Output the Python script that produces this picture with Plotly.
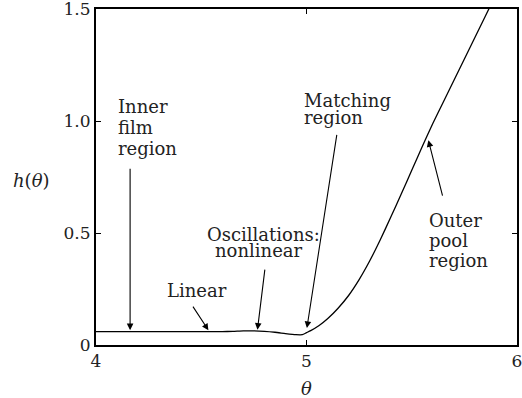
import plotly.graph_objects as go

# ---- data ----
theta = [4.0, 4.2, 4.4, 4.6, 4.65, 4.7, 4.75, 4.8, 4.85, 4.9, 4.95, 4.98, 5.0,
         5.02, 5.06, 5.1, 5.15, 5.2, 5.25, 5.3, 5.35, 5.4, 5.45, 5.5, 5.55,
         5.6, 5.65, 5.7, 5.75, 5.8, 5.85, 5.9]
h = [0.06, 0.06, 0.06, 0.06, 0.061, 0.063, 0.063, 0.061, 0.057, 0.051, 0.046,
     0.046, 0.055, 0.064, 0.087, 0.117, 0.164, 0.221, 0.292, 0.375, 0.469,
     0.570, 0.674, 0.780, 0.886, 0.989, 1.085, 1.181, 1.277, 1.373, 1.469,
     1.565]

x_tickvals = [4, 5, 6]
x_ticktext = ["4", "5", "6"]
y_tickvals = [0, 0.5, 1.0, 1.5]
y_ticktext = ["0", "0.5", "1.0", "1.5"]

# label lines: (text, theta, h, xanchor)
labels = [
    ("Inner", 4.10, 1.066, "left"),
    ("film", 4.10, 0.972, "left"),
    ("region", 4.10, 0.879, "left"),
    ("Linear", 4.333, 0.243, "left"),
    ("Oscillations:", 4.797, 0.495, "center"),
    ("nonlinear", 4.776, 0.421, "center"),
    ("Matching", 4.983, 1.093, "left"),
    ("region", 4.983, 1.017, "left"),
    ("Outer", 5.577, 0.558, "left"),
    ("pool", 5.577, 0.466, "left"),
    ("region", 5.577, 0.377, "left"),
]

# arrows: (tail theta, tail h, tip theta, tip h)
arrows = [
    (4.162, 0.794, 4.162, 0.066),
    (4.456, 0.178, 4.534, 0.066),
    (4.803, 0.343, 4.767, 0.068),
    (5.145, 0.945, 5.002, 0.076),
    (5.648, 0.660, 5.579, 0.914),
]

FONT = "DejaVu Serif"
FS = 18
TFS = 17
TXT = "#222"

fig = go.Figure()
fig.add_trace(go.Scatter(x=theta, y=h, mode="lines",
                         line=dict(color="black", width=1.3, shape="spline",
                                   smoothing=0.6),
                         hoverinfo="skip", showlegend=False))

ann = []
for t, x, y, xa in labels:
    ann.append(dict(x=x, y=y, xref="x", yref="y", text=t, showarrow=False,
                    xanchor=xa, yanchor="middle", borderpad=0,
                    font=dict(family=FONT, size=FS, color=TXT)))
for tx, ty, hx, hy in arrows:
    ann.append(dict(x=hx, y=hy, ax=tx, ay=ty, xref="x", yref="y",
                    axref="x", ayref="y", text="", showarrow=True,
                    arrowhead=2, arrowsize=1.2, arrowwidth=1.1,
                    arrowcolor="black", standoff=0, startstandoff=0))
ann.append(dict(x=-0.154, y=0.49, xref="paper", yref="paper",
                text="<i>h</i>(<i>θ</i>)", showarrow=False,
                xanchor="center", yanchor="middle",
                font=dict(family=FONT, size=FS, color=TXT)))
ann.append(dict(x=5.0, y=-0.128, xref="x", yref="paper",
                text="<i>θ</i>", showarrow=False,
                xanchor="center", yanchor="middle",
                font=dict(family=FONT, size=FS, color=TXT)))

fig.update_layout(
    width=522, height=398,
    margin=dict(l=96, r=5, t=9, b=53, autoexpand=False),
    paper_bgcolor="white", plot_bgcolor="white",
    font=dict(family=FONT, size=FS, color=TXT),
    annotations=ann,
    showlegend=False,
)
common = dict(ticks="inside", ticklen=5, tickwidth=1, tickcolor="black",
              showline=True, linecolor="black", linewidth=2, mirror="ticks",
              showgrid=False, zeroline=False, ticklabeloverflow="allow",
              automargin=False,
              tickfont=dict(family=FONT, size=TFS, color=TXT))
fig.update_xaxes(range=[4, 6], tickvals=x_tickvals, ticktext=x_ticktext,
                 **common)
fig.update_yaxes(range=[0, 1.5], tickvals=y_tickvals, ticktext=y_ticktext,
                 **common)

fig.write_html("out.html")
